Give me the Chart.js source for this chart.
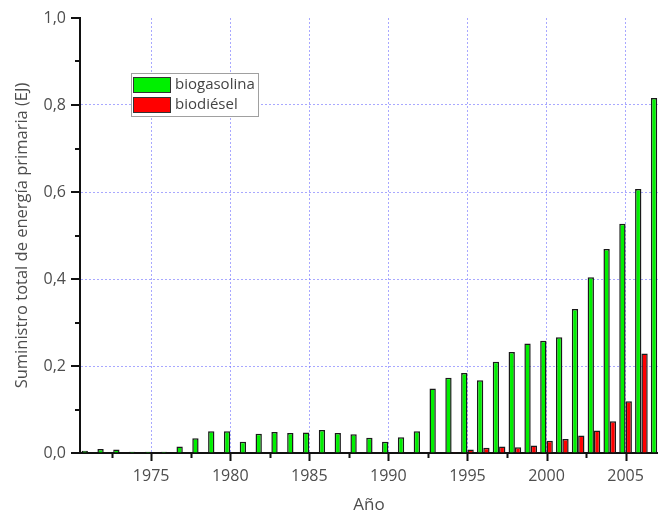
<!DOCTYPE html>
<html>
<head>
<meta charset="utf-8">
<script src="https://cdn.jsdelivr.net/npm/chart.js@4"></script>
<style>
    html, body { margin: 0; padding: 0; background: #ffffff; }
    #chart { display: block; }
</style>
</head>
<body>
<canvas id="chart" width="658" height="515"></canvas>
<script>
const years = [1971, 1972, 1973, 1974, 1975, 1976, 1977, 1978, 1979, 1980,
    1981, 1982, 1983, 1984, 1985, 1986, 1987, 1988, 1989, 1990,
    1991, 1992, 1993, 1994, 1995, 1996, 1997, 1998, 1999, 2000,
    2001, 2002, 2003, 2004, 2005, 2006, 2007];

const biogasolina = [0.005, 0.009, 0.008, 0.003, 0.003, 0.003, 0.015, 0.034, 0.050, 0.050,
    0.026, 0.044, 0.048, 0.046, 0.047, 0.053, 0.046, 0.043, 0.035, 0.026,
    0.036, 0.050, 0.148, 0.173, 0.184, 0.167, 0.210, 0.232, 0.252, 0.258,
    0.266, 0.331, 0.404, 0.469, 0.527, 0.607, 0.816];

const biodiesel = [null, null, null, null, null, null, null, null, null, null,
    null, null, null, null, null, null, null, null, null, null,
    null, null, null, 0.002, 0.008, 0.012, 0.015, 0.013, 0.017, 0.028,
    0.032, 0.040, 0.052, 0.073, 0.119, 0.229, null];

const xMajorTicks = [1975, 1980, 1985, 1990, 1995, 2000, 2005];
const xMinorTicks = [1972.5, 1977.5, 1982.5, 1987.5, 1992.5, 1997.5, 2002.5];
const yMajorTicks = [0, 0.2, 0.4, 0.6, 0.8, 1.0];
const yMinorTicks = [0.1, 0.3, 0.5, 0.7, 0.9];
const yGridValues = [0.2, 0.4, 0.6, 0.8];

const gridColor = 'rgba(110, 110, 255, 0.6)';
const textColor = '#4d4d4d';
const fontFamily = '"Open Sans", "DejaVu Sans", sans-serif';

const isIn = (list, value) => list.some((v) => Math.abs(v - value) < 1e-6);

// tick marks drawn outside the axes, long for major and short for minor
const tickMarks = {
    id: 'tickMarks',
    afterDraw(chart) {
        const { ctx, scales: { x, y } } = chart;
        ctx.save();
        ctx.strokeStyle = '#111111';
        ctx.lineWidth = 2;
        ctx.beginPath();
        x.ticks.forEach((tick) => {
            const px = Math.round(x.getPixelForValue(tick.value)) + 0.5;
            const len = isIn(xMajorTicks, tick.value) ? 8 : 5;
            ctx.moveTo(px, x.top);
            ctx.lineTo(px, x.top + len);
        });
        y.ticks.forEach((tick) => {
            const py = Math.round(y.getPixelForValue(tick.value));
            const len = isIn(yMajorTicks, tick.value) ? 9 : 5;
            ctx.moveTo(y.right, py);
            ctx.lineTo(y.right - len, py);
        });
        ctx.stroke();
        ctx.restore();
    },
};

// floating legend box inside the plot
const boxLegend = {
    id: 'boxLegend',
    afterDraw(chart) {
        const { ctx } = chart;
        const left = 131;
        const top = 73;
        const width = 127;
        const height = 43;
        ctx.save();
        ctx.fillStyle = '#ffffff';
        ctx.fillRect(left, top, width, height);
        ctx.strokeStyle = '#a0a0a0';
        ctx.lineWidth = 1;
        ctx.strokeRect(left + 0.5, top + 0.5, width, height);
        ctx.font = '15px ' + fontFamily;
        ctx.textBaseline = 'middle';
        chart.data.datasets.forEach((dataset, i) => {
            const rowY = top + 4 + i * 20;
            ctx.fillStyle = dataset.backgroundColor;
            ctx.fillRect(left + 2, rowY, 37, 15);
            ctx.strokeStyle = '#333333';
            ctx.strokeRect(left + 2.5, rowY + 0.5, 37, 15);
            ctx.fillStyle = '#444444';
            ctx.fillText(dataset.label, left + 44, rowY + 8);
        });
        ctx.restore();
    },
};

const toPoints = (values) => years.map((year, i) => ({ x: year, y: values[i] }));

new Chart(document.getElementById('chart'), {
    type: 'bar',
    data: {
        datasets: [
            {
                label: 'biogasolina',
                data: toPoints(biogasolina),
                backgroundColor: '#00f000',
                borderColor: '#1a1a1a',
                borderWidth: 1.5,
                categoryPercentage: 0.8,
                barPercentage: 1.0,
            },
            {
                label: 'biodiésel',
                data: toPoints(biodiesel),
                backgroundColor: '#ff0000',
                borderColor: '#1a1a1a',
                borderWidth: 1.5,
                categoryPercentage: 0.8,
                barPercentage: 1.0,
            },
        ],
    },
    options: {
        responsive: false,
        animation: false,
        layout: {
            padding: { top: 18, right: 0, bottom: 0, left: 0 },
        },
        plugins: {
            legend: { display: false },
            tooltip: { enabled: false },
        },
        scales: {
            x: {
                type: 'linear',
                min: 1970.5,
                max: 2007.05,
                offset: false,
                afterBuildTicks: (scale) => {
                    scale.ticks = [...xMinorTicks, ...xMajorTicks]
                        .sort((a, b) => a - b)
                        .map((value) => ({ value }));
                },
                afterFit: (scale) => {
                    scale.height = 62;
                },
                grid: {
                    offset: false,
                    color: (ctx) => (ctx.tick && isIn(xMajorTicks, ctx.tick.value) ? gridColor : 'transparent'),
                    lineWidth: 1,
                    tickColor: 'transparent',
                    tickLength: 8,
                },
                border: {
                    display: true,
                    color: '#111111',
                    width: 2,
                    dash: [2, 2],
                },
                ticks: {
                    autoSkip: false,
                    maxRotation: 0,
                    padding: 6,
                    color: textColor,
                    font: { family: fontFamily, size: 16 },
                    callback: (value) => (isIn(xMajorTicks, value) ? String(value) : ''),
                },
                title: {
                    display: true,
                    text: 'Año',
                    color: textColor,
                    font: { family: fontFamily, size: 17 },
                    padding: { top: 0, bottom: 0 },
                },
            },
            y: {
                min: 0,
                max: 1,
                afterBuildTicks: (scale) => {
                    scale.ticks = [...yMajorTicks, ...yMinorTicks]
                        .sort((a, b) => a - b)
                        .map((value) => ({ value }));
                },
                afterFit: (scale) => {
                    scale.width = 80;
                },
                grid: {
                    color: (ctx) => (ctx.tick && isIn(yGridValues, ctx.tick.value) ? gridColor : 'transparent'),
                    lineWidth: 1,
                    tickColor: 'transparent',
                    tickLength: 9,
                },
                border: {
                    display: true,
                    color: '#111111',
                    width: 2,
                    dash: [2, 2],
                },
                ticks: {
                    padding: 5,
                    color: textColor,
                    font: { family: fontFamily, size: 16 },
                    callback: (value) => (isIn(yMajorTicks, value) ? value.toFixed(1).replace('.', ',') : ''),
                },
                title: {
                    display: true,
                    text: 'Suministro total de energía primaria (EJ)',
                    color: textColor,
                    font: { family: fontFamily, size: 16.5 },
                    padding: { top: 12, bottom: 0 },
                },
            },
        },
    },
    plugins: [tickMarks, boxLegend],
});
</script>
</body>
</html>
